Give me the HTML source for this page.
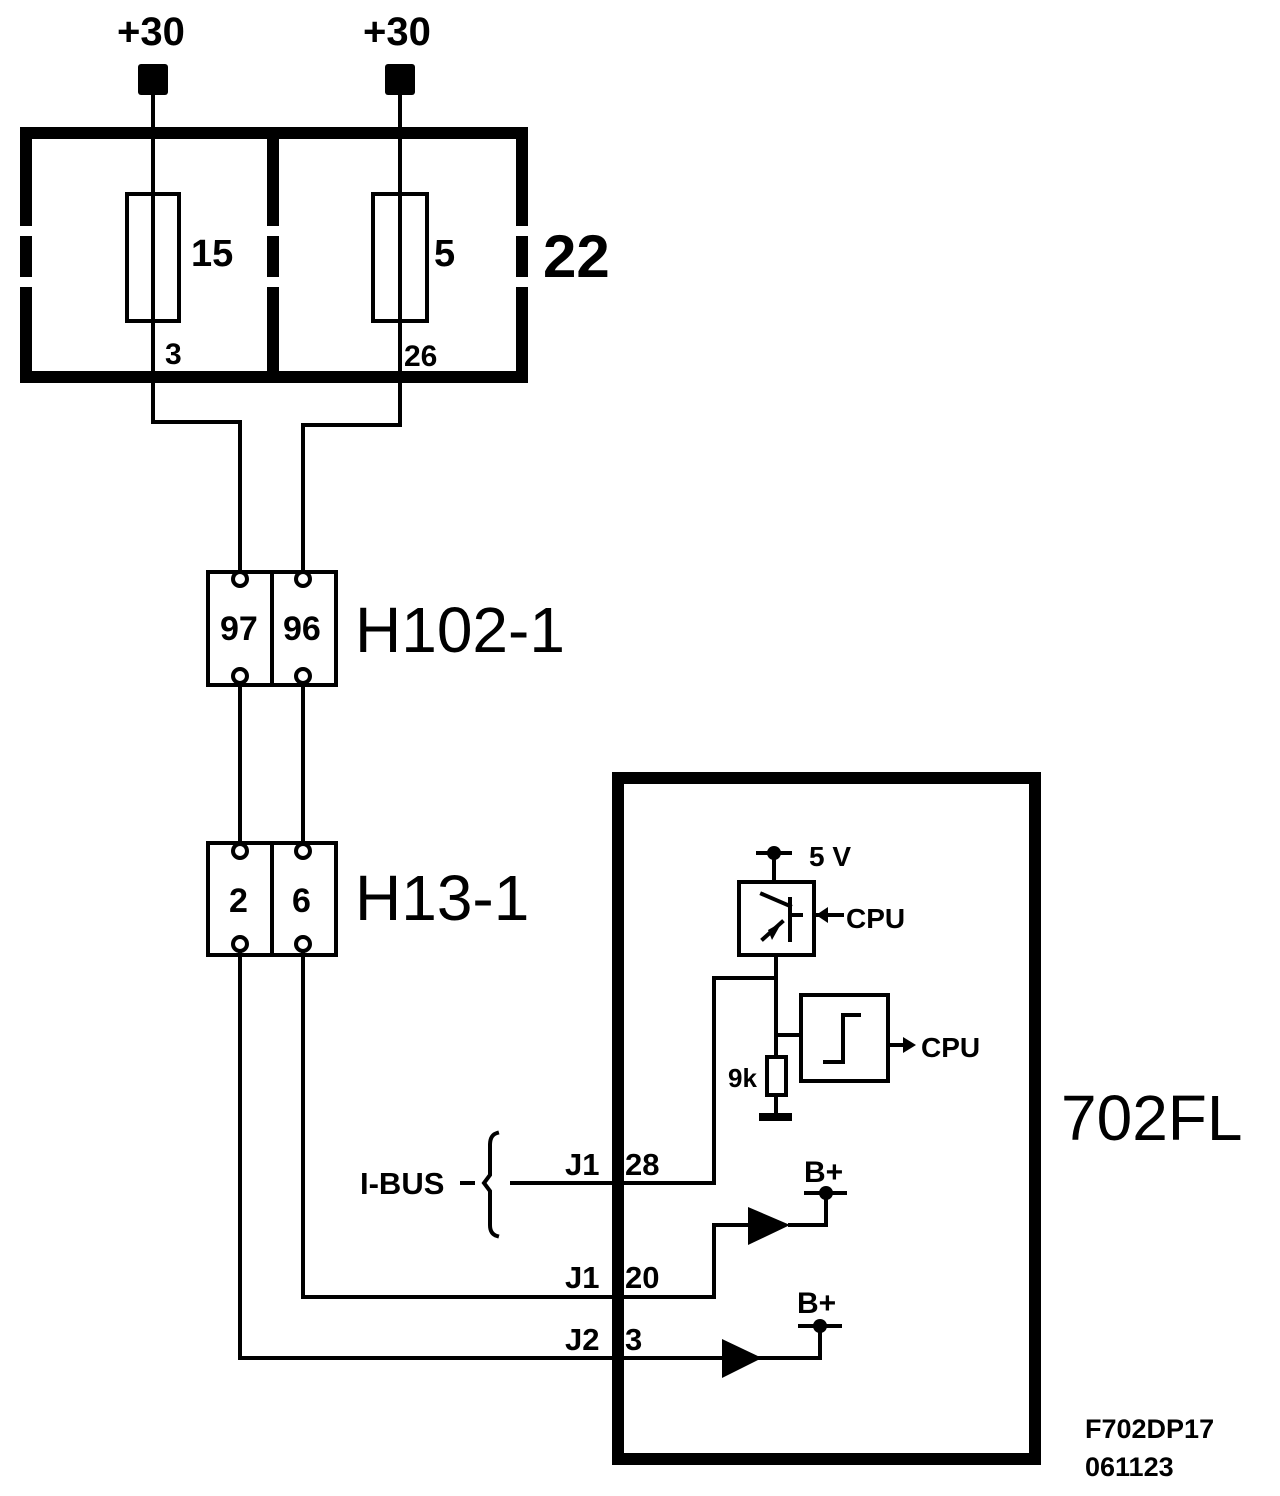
<!DOCTYPE html>
<html><head><meta charset="utf-8"><style>
html,body{margin:0;padding:0;background:#fff;}
svg{display:block;}
text{font-family:"Liberation Sans",Arial,sans-serif;fill:#000;}
</style></head><body>
<svg width="1280" height="1496" viewBox="0 0 1280 1496" xmlns="http://www.w3.org/2000/svg">
<g stroke="#000" fill="none" stroke-linecap="butt">
<!-- fuse box -->
<g stroke-width="12">
<line x1="20" y1="133" x2="528" y2="133"/>
<line x1="20" y1="377" x2="528" y2="377"/>
<line x1="26" y1="133" x2="26" y2="226"/>
<line x1="26" y1="236" x2="26" y2="277"/>
<line x1="26" y1="287" x2="26" y2="377"/>
<line x1="273" y1="133" x2="273" y2="226"/>
<line x1="273" y1="236" x2="273" y2="277"/>
<line x1="273" y1="287" x2="273" y2="377"/>
<line x1="522" y1="133" x2="522" y2="226"/>
<line x1="522" y1="236" x2="522" y2="277"/>
<line x1="522" y1="287" x2="522" y2="377"/>
</g>
<g stroke-width="4" stroke-linecap="square">
<rect x="127" y="194" width="52" height="127"/>
<rect x="373" y="194" width="54" height="127"/>
<polyline points="153,90 153,422 240,422 240,572"/>
<polyline points="400,90 400,425 303,425 303,572"/>
<rect x="208" y="572" width="128" height="113"/>
<line x1="272" y1="572" x2="272" y2="685"/>
<rect x="208" y="843" width="128" height="112"/>
<line x1="272" y1="843" x2="272" y2="955"/>
<line x1="240" y1="685" x2="240" y2="843"/>
<line x1="303" y1="685" x2="303" y2="843"/>
<circle cx="240" cy="579" r="7" fill="#fff"/>
<circle cx="303" cy="579" r="7" fill="#fff"/>
<circle cx="240" cy="676" r="7" fill="#fff"/>
<circle cx="303" cy="676" r="7" fill="#fff"/>
<circle cx="240" cy="851" r="7" fill="#fff"/>
<circle cx="303" cy="851" r="7" fill="#fff"/>
<circle cx="240" cy="944" r="7" fill="#fff"/>
<circle cx="303" cy="944" r="7" fill="#fff"/>
<polyline points="303,951 303,1297 714,1297 714,1225 750,1225"/>
<polyline points="790,1225 826,1225 826,1193"/>
<line x1="806" y1="1193" x2="845" y2="1193"/>
<polyline points="240,951 240,1358 725,1358"/>
<polyline points="760,1358 820,1358 820,1326"/>
<line x1="800" y1="1326" x2="840" y2="1326"/>
<polyline points="512,1183 714,1183 714,978 776,978"/>
<line x1="462" y1="1183" x2="473" y2="1183"/>
<path d="M497,1133 Q490,1135 490,1145 L490,1175 L484,1183 L490,1191 L490,1225 Q490,1234 497,1236"/>
<line x1="758" y1="853" x2="790" y2="853"/>
<line x1="774" y1="853" x2="774" y2="880"/>
<rect x="739" y="882" width="75" height="73"/>
<line x1="776" y1="955" x2="776" y2="1057"/>
<line x1="776" y1="1035" x2="801" y2="1035"/>
<rect x="801" y="995" width="87" height="86"/>
<polyline points="825,1062 843,1062 843,1015 859,1015"/>
<line x1="888" y1="1045" x2="903" y2="1045"/>
<rect x="767" y="1057" width="19" height="38"/>
<line x1="776" y1="1095" x2="776" y2="1116"/>
<line x1="818" y1="915" x2="842" y2="915"/>
<line x1="762" y1="894" x2="790" y2="906"/>
<line x1="790" y1="899" x2="790" y2="940"/>
<line x1="790" y1="915" x2="801" y2="915"/>
<line x1="763" y1="939" x2="782" y2="922"/>
</g>
</g>
<rect x="618" y="778" width="417" height="681" stroke="#000" stroke-width="12" fill="none"/>
<g fill="#000">
<rect x="138" y="64" width="30" height="31" rx="3"/>
<rect x="385" y="64" width="30" height="31" rx="3"/>
<polygon points="748,1207 790,1225 748,1245"/>
<polygon points="722,1339 762,1358 722,1378"/>
<circle cx="826" cy="1193" r="7"/>
<circle cx="820" cy="1326" r="7"/>
<circle cx="774" cy="853" r="7"/>
<rect x="759" y="1113" width="33" height="8"/>
<polygon points="816,915 828,907 828,923"/>
<polygon points="916,1045 903,1037 903,1053"/>
<polygon points="782,922 772,940 768,930"/>
</g>
<g font-weight="bold">
<text x="117" y="45" font-size="40">+30</text>
<text x="363" y="45" font-size="40">+30</text>
<text x="191" y="266" font-size="38">15</text>
<text x="434" y="266" font-size="38">5</text>
<text x="543" y="277" font-size="60">22</text>
<text x="165" y="364" font-size="30">3</text>
<text x="404" y="366" font-size="30">26</text>
<text x="220" y="640" font-size="34">97</text>
<text x="283" y="640" font-size="34">96</text>
<text x="229" y="912" font-size="34">2</text>
<text x="292" y="912" font-size="34">6</text>
<text x="809" y="866" font-size="28">5 V</text>
<text x="846" y="928" font-size="28">CPU</text>
<text x="921" y="1057" font-size="28">CPU</text>
<text x="728" y="1087" font-size="26">9k</text>
<text x="360" y="1194" font-size="31">I-BUS</text>
<text x="565" y="1175" font-size="31">J1</text>
<text x="625" y="1175" font-size="31">28</text>
<text x="565" y="1288" font-size="31">J1</text>
<text x="625" y="1288" font-size="31">20</text>
<text x="565" y="1350" font-size="31">J2</text>
<text x="625" y="1350" font-size="31">3</text>
<text x="804" y="1182" font-size="30">B+</text>
<text x="797" y="1313" font-size="30">B+</text>
<text x="1085" y="1438" font-size="27">F702DP17</text>
<text x="1085" y="1476" font-size="27">061123</text>
</g>
<text x="355" y="652" font-size="64">H102-1</text>
<text x="355" y="920" font-size="64">H13-1</text>
<text x="1061" y="1140" font-size="64">702FL</text>
</svg>
</body></html>
